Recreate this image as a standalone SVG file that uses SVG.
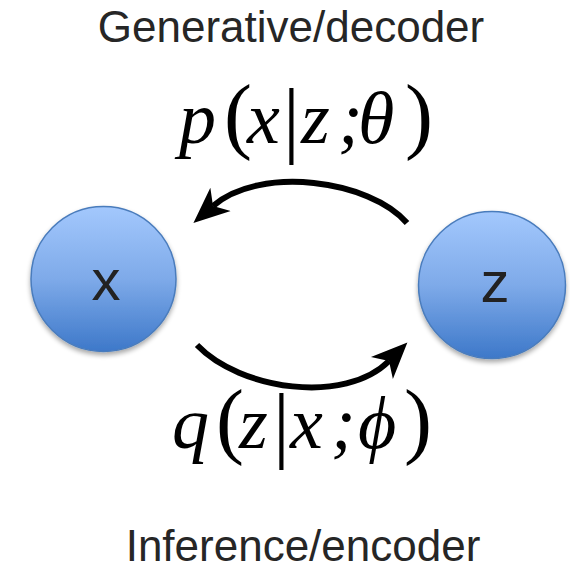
<svg xmlns="http://www.w3.org/2000/svg" width="570" height="569" viewBox="0 0 570 569">
  <style>
    .title { font-family: "Liberation Sans", Arial, sans-serif; font-size: 44px; fill: #262626; text-anchor: middle; }
    .nodelabel { font-family: "Liberation Sans", Arial, sans-serif; font-size: 58px; fill: #222222; text-anchor: middle; }
    .math { font-family: "Liberation Serif", "Times New Roman", serif; font-size: 74px; font-style: italic; fill: #000; }
    .paren { font-style: normal; font-size: 84px; }
    .bar { font-style: normal; font-size: 84px; }
    .node circle { fill: url(#blueGrad); stroke: #4a7cbc; stroke-width: 1.5; filter: url(#shadow); }
    .conn { fill: none; stroke: #000; stroke-width: 6; marker-end: url(#head); }
  </style>
  <defs>
    <linearGradient id="blueGrad" x1="0" y1="0" x2="0" y2="1">
      <stop offset="0" stop-color="#a3c8fd"/>
      <stop offset="0.5" stop-color="#7eaae9"/>
      <stop offset="1" stop-color="#3d78c9"/>
    </linearGradient>
    <filter id="shadow" x="-20%" y="-20%" width="140%" height="145%">
      <feGaussianBlur in="SourceAlpha" stdDeviation="2.5"/>
      <feOffset dx="0" dy="3" result="b"/>
      <feComponentTransfer><feFuncA type="linear" slope="0.35"/></feComponentTransfer>
      <feMerge><feMergeNode/><feMergeNode in="SourceGraphic"/></feMerge>
    </filter>
    <marker id="head" markerUnits="userSpaceOnUse" viewBox="-10 -20 50 40" refX="0" refY="0" markerWidth="50" markerHeight="40" orient="auto">
      <path d="M26,0 L-10,-15.5 L0,0 L-10,15.5 Z" fill="#000"/>
    </marker>
  </defs>

  <text class="title" x="291" y="42">Generative/decoder</text>
  <text class="title" x="303" y="561">Inference/encoder</text>

  <g id="connectors">
    <path class="conn" d="M407,223 C370,180 260,165 213,206"/>
    <path class="conn" d="M197,345 C240,390 345,405 389,361"/>
  </g>

  <g id="node-x" class="node">
    <circle cx="103.5" cy="279" r="72.5"/>
    <text class="nodelabel" x="106" y="300">x</text>
  </g>
  <g id="node-z" class="node">
    <circle cx="492" cy="285" r="73.5"/>
    <text class="nodelabel" x="495" y="302">z</text>
  </g>

  <g id="label-p">
    <text class="math" y="143"><tspan x="179">p</tspan><tspan class="paren" x="224" y="143">(</tspan><tspan x="247" y="143">x</tspan><tspan class="bar" x="283" y="147">|</tspan><tspan x="301" y="143">z</tspan><tspan x="338" y="143">;</tspan><tspan x="358" y="143">θ</tspan><tspan class="paren" x="405" y="143">)</tspan></text>
  </g>
  <g id="label-q">
    <text class="math" y="448"><tspan x="172">q</tspan><tspan class="paren" x="216" y="448">(</tspan><tspan x="239" y="448">z</tspan><tspan class="bar" x="273" y="452">|</tspan><tspan x="290" y="448">x</tspan><tspan x="331" y="448">;</tspan><tspan x="358" y="448">ϕ</tspan><tspan class="paren" x="404" y="448">)</tspan></text>
  </g>
</svg>
